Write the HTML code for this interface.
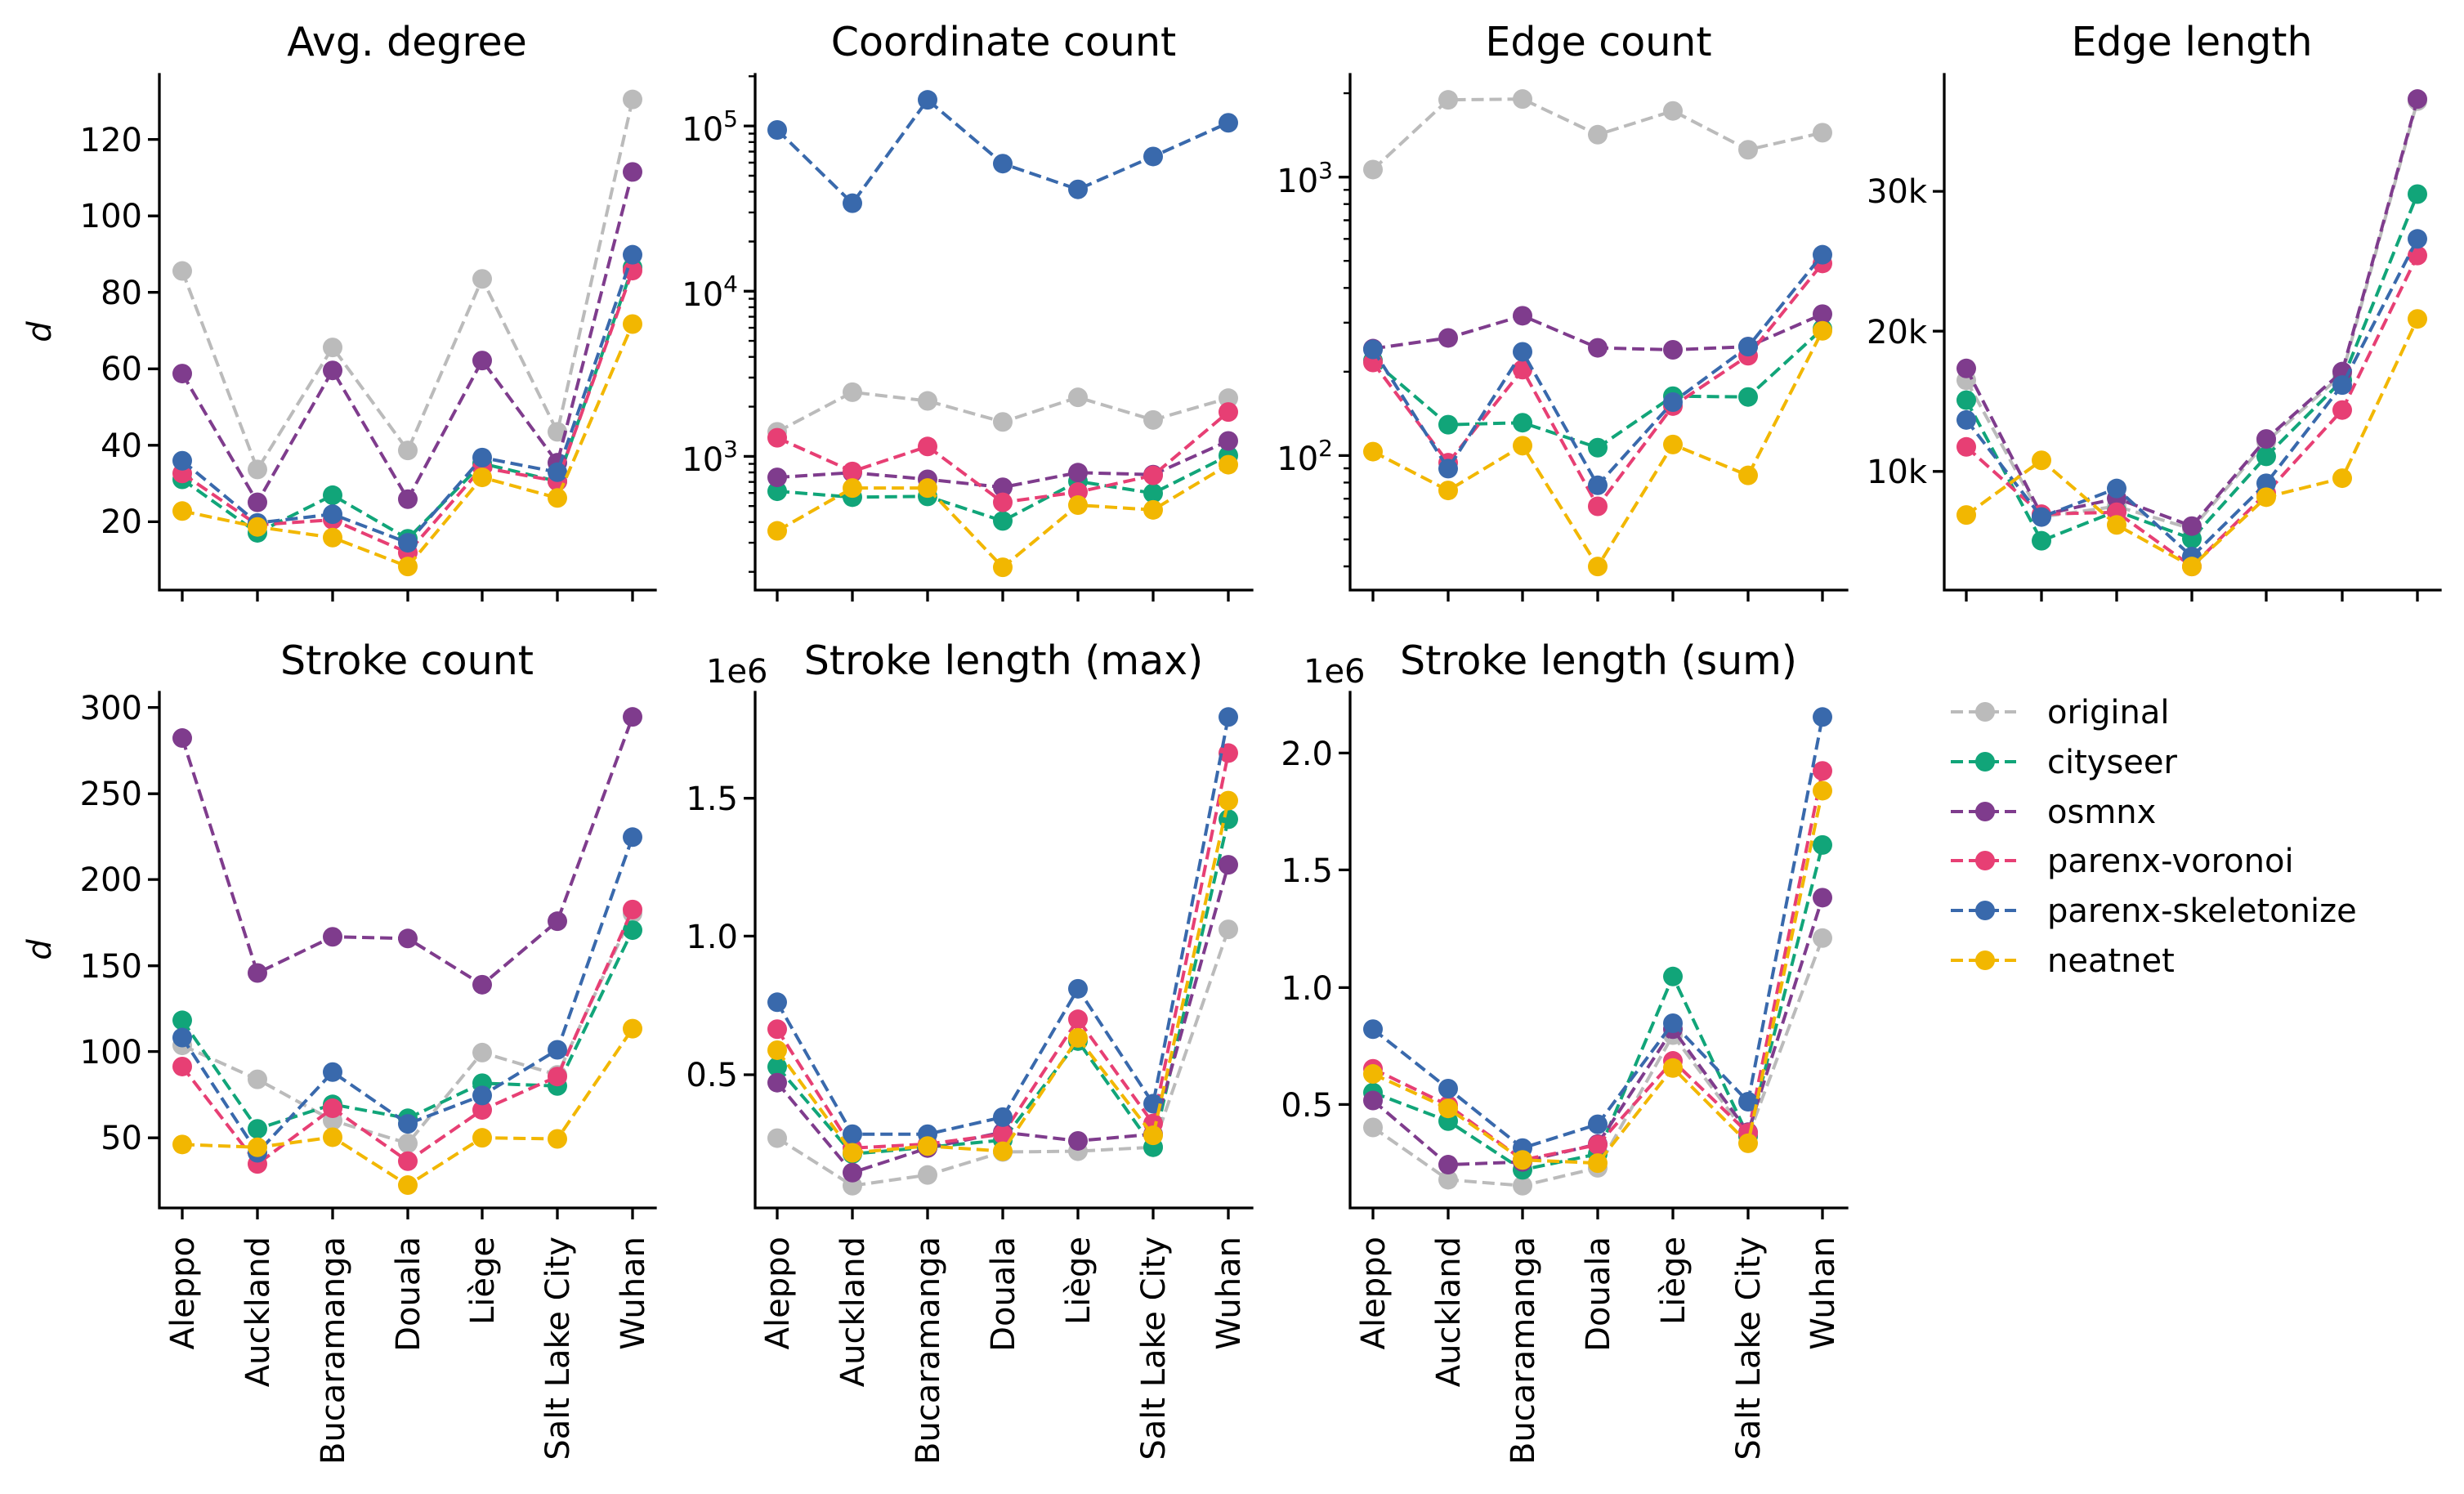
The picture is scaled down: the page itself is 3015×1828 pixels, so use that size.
<!DOCTYPE html>
<html><head><meta charset="utf-8"><style>
html,body{margin:0;padding:0;background:#fff}
svg{display:block}
text{font-family:"DejaVu Sans","Liberation Sans",sans-serif;fill:#000}
.t{font-size:40px}
.ti{font-size:49px}
.ax{stroke:#000;stroke-width:3.3;fill:none;stroke-linecap:square}
.tk{stroke:#000;stroke-width:3.3}
.mn{stroke:#000;stroke-width:2.4}
.l{fill:none;stroke-width:4;stroke-dasharray:15 7;vector-effect:non-scaling-stroke}
.m{fill:none;stroke-width:24;stroke-linecap:round;vector-effect:non-scaling-stroke}
.g{stroke:#bbbbbb}.c{stroke:#11a579}.o{stroke:#7f3c8d}.v{stroke:#e73f74}.s{stroke:#3969ac}.n{stroke:#f2b701}
</style></head><body>
<svg width="3015" height="1828" viewBox="0 0 3015 1828" xmlns="http://www.w3.org/2000/svg">

<!-- Titles -->
<text class="ti" x="498" y="68" text-anchor="middle">Avg. degree</text>
<text class="ti" x="1228" y="68" text-anchor="middle">Coordinate count</text>
<text class="ti" x="1956" y="68" text-anchor="middle">Edge count</text>
<text class="ti" x="2682" y="68" text-anchor="middle">Edge length</text>
<text class="ti" x="498" y="825" text-anchor="middle">Stroke count</text>
<text class="ti" x="1228" y="825" text-anchor="middle">Stroke length (max)</text>
<text class="ti" x="1956" y="825" text-anchor="middle">Stroke length (sum)</text>

<!-- y labels -->
<text class="t" font-style="italic" transform="translate(62,406) rotate(-90)" text-anchor="middle">d</text>
<text class="t" font-style="italic" transform="translate(62,1162) rotate(-90)" text-anchor="middle">d</text>

<!-- Axes spines -->
<path class="ax" d="M195 91V722H802"/>
<path class="ax" d="M924 91V722H1532"/>
<path class="ax" d="M1652 91V722H2260"/>
<path class="ax" d="M2379 91V722H2986"/>
<path class="ax" d="M195 847V1478H802"/>
<path class="ax" d="M924 847V1478H1532"/>
<path class="ax" d="M1652 847V1478H2260"/>

<!-- x ticks -->
<path class="tk" d="M223 722v14M315 722v14M407 722v14M499 722v14M590 722v14M682 722v14M774 722v14
M951 722v14M1043 722v14M1135 722v14M1227 722v14M1319 722v14M1411 722v14M1503 722v14
M1680 722v14M1772 722v14M1863 722v14M1955 722v14M2047 722v14M2139 722v14M2230 722v14
M2406 722v14M2498 722v14M2590 722v14M2682 722v14M2773 722v14M2866 722v14M2958 722v14
M223 1478v14M315 1478v14M407 1478v14M499 1478v14M590 1478v14M682 1478v14M774 1478v14
M951 1478v14M1043 1478v14M1135 1478v14M1227 1478v14M1319 1478v14M1411 1478v14M1503 1478v14
M1680 1478v14M1772 1478v14M1863 1478v14M1955 1478v14M2047 1478v14M2139 1478v14M2230 1478v14"/>

<!-- x tick labels -->
<g class="t" text-anchor="end">
<text class="t" transform="translate(223,1513) rotate(-90)" dy="0.35em">Aleppo</text>
<text class="t" transform="translate(315,1513) rotate(-90)" dy="0.35em">Auckland</text>
<text class="t" transform="translate(407,1513) rotate(-90)" dy="0.35em">Bucaramanga</text>
<text class="t" transform="translate(499,1513) rotate(-90)" dy="0.35em">Douala</text>
<text class="t" transform="translate(590,1513) rotate(-90)" dy="0.35em">Liège</text>
<text class="t" transform="translate(682,1513) rotate(-90)" dy="0.35em">Salt Lake City</text>
<text class="t" transform="translate(774,1513) rotate(-90)" dy="0.35em">Wuhan</text>
<text class="t" transform="translate(951,1513) rotate(-90)" dy="0.35em">Aleppo</text>
<text class="t" transform="translate(1043,1513) rotate(-90)" dy="0.35em">Auckland</text>
<text class="t" transform="translate(1135,1513) rotate(-90)" dy="0.35em">Bucaramanga</text>
<text class="t" transform="translate(1227,1513) rotate(-90)" dy="0.35em">Douala</text>
<text class="t" transform="translate(1319,1513) rotate(-90)" dy="0.35em">Liège</text>
<text class="t" transform="translate(1411,1513) rotate(-90)" dy="0.35em">Salt Lake City</text>
<text class="t" transform="translate(1503,1513) rotate(-90)" dy="0.35em">Wuhan</text>
<text class="t" transform="translate(1680,1513) rotate(-90)" dy="0.35em">Aleppo</text>
<text class="t" transform="translate(1772,1513) rotate(-90)" dy="0.35em">Auckland</text>
<text class="t" transform="translate(1863,1513) rotate(-90)" dy="0.35em">Bucaramanga</text>
<text class="t" transform="translate(1955,1513) rotate(-90)" dy="0.35em">Douala</text>
<text class="t" transform="translate(2047,1513) rotate(-90)" dy="0.35em">Liège</text>
<text class="t" transform="translate(2139,1513) rotate(-90)" dy="0.35em">Salt Lake City</text>
<text class="t" transform="translate(2230,1513) rotate(-90)" dy="0.35em">Wuhan</text>
</g>

<!-- P1 y ticks -->
<path class="tk" d="M195 638.4h-14M195 544.8h-14M195 451.3h-14M195 357.7h-14M195 264.2h-14M195 170.6h-14"/>
<g text-anchor="end">
<text class="t" x="174" y="652">20</text>
<text class="t" x="174" y="559">40</text>
<text class="t" x="174" y="465">60</text>
<text class="t" x="174" y="372">80</text>
<text class="t" x="174" y="278">100</text>
<text class="t" x="174" y="185">120</text>
</g>

<!-- P2 y ticks (log) -->
<path class="tk" d="M924 154.1h-14M924 356.3h-14M924 558.4h-14"/>
<path class="mn" d="M924 699.7h-8M924 664.1h-8M924 638.8h-8M924 619.2h-8M924 603.2h-8M924 589.7h-8M924 578h-8M924 567.6h-8
M924 497.6h-8M924 462h-8M924 436.7h-8M924 417.1h-8M924 401.1h-8M924 387.6h-8M924 375.9h-8M924 365.6h-8
M924 295.5h-8M924 259.9h-8M924 234.6h-8M924 215h-8M924 199h-8M924 185.5h-8M924 173.8h-8M924 163.5h-8M924 93.3h-8"/>
<g text-anchor="end">
<text class="t" x="903" y="172">10<tspan font-size="28" dy="-17">5</tspan></text>
<text class="t" x="903" y="374">10<tspan font-size="28" dy="-17">4</tspan></text>
<text class="t" x="903" y="576">10<tspan font-size="28" dy="-17">3</tspan></text>
</g>

<!-- P3 y ticks (log) -->
<path class="tk" d="M1652 216.7h-14M1652 557.4h-14"/>
<path class="mn" d="M1652 693h-8M1652 660h-8M1652 633h-8M1652 610.2h-8M1652 590.4h-8M1652 573h-8
M1652 454.8h-8M1652 394.8h-8M1652 352.3h-8M1652 319.2h-8M1652 292.3h-8M1652 269.5h-8M1652 249.7h-8M1652 232.3h-8M1652 114.1h-8"/>
<g text-anchor="end">
<text class="t" x="1631" y="235">10<tspan font-size="28" dy="-17">3</tspan></text>
<text class="t" x="1631" y="575">10<tspan font-size="28" dy="-17">2</tspan></text>
</g>

<!-- P4 y ticks -->
<path class="tk" d="M2379 576.8h-14M2379 405.2h-14M2379 234.1h-14"/>
<g text-anchor="end">
<text class="t" x="2358" y="591">10k</text>
<text class="t" x="2358" y="420">20k</text>
<text class="t" x="2358" y="248">30k</text>
</g>

<!-- P5 y ticks -->
<path class="tk" d="M195 865.6h-14M195 971.2h-14M195 1076.1h-14M195 1181.7h-14M195 1286.6h-14M195 1392.2h-14"/>
<g text-anchor="end">
<text class="t" x="174" y="880">300</text>
<text class="t" x="174" y="985">250</text>
<text class="t" x="174" y="1090">200</text>
<text class="t" x="174" y="1196">150</text>
<text class="t" x="174" y="1301">100</text>
<text class="t" x="174" y="1406">50</text>
</g>

<!-- P6 y ticks -->
<path class="tk" d="M924 1315h-14M924 1145.4h-14M924 976.7h-14"/>
<g text-anchor="end">
<text class="t" x="903" y="1329">0.5</text>
<text class="t" x="903" y="1160">1.0</text>
<text class="t" x="903" y="991">1.5</text>
</g>
<text class="t" x="864" y="835">1e6</text>

<!-- P7 y ticks -->
<path class="tk" d="M1652 1351.4h-14M1652 1208.4h-14M1652 1064.4h-14M1652 921.4h-14"/>
<g text-anchor="end">
<text class="t" x="1631" y="1366">0.5</text>
<text class="t" x="1631" y="1223">1.0</text>
<text class="t" x="1631" y="1079">1.5</text>
<text class="t" x="1631" y="936">2.0</text>
</g>
<text class="t" x="1595" y="835">1e6</text>

<!-- P1 data -->
<g transform="scale(1,0.48473)">
<path class="l g" d="M223 684L315 1185L407 877L499 1137L590 704L682 1090L774 251"/>
<path class="m g" d="M223 684h0M315 1185h0M407 877h0M499 1137h0M590 704h0M682 1090h0M774 251h0"/>
<path class="l c" d="M223 1210L315 1345L407 1250L499 1360L590 1170L682 1215L774 675"/>
<path class="m c" d="M223 1210h0M315 1345h0M407 1250h0M499 1360h0M590 1170h0M682 1215h0M774 675h0"/>
<path class="l o" d="M223 943L315 1268L407 935L499 1260L590 910L682 1168L774 434"/>
<path class="m o" d="M223 943h0M315 1268h0M407 935h0M499 1260h0M590 910h0M682 1168h0M774 434h0"/>
<path class="l v" d="M223 1195L315 1325L407 1312L499 1395L590 1180L682 1215L774 683"/>
<path class="m v" d="M223 1195h0M315 1325h0M407 1312h0M499 1395h0M590 1180h0M682 1215h0M774 683h0"/>
<path class="l s" d="M223 1163L315 1320L407 1298L499 1370L590 1155L682 1192L774 643"/>
<path class="m s" d="M223 1163h0M315 1320h0M407 1298h0M499 1370h0M590 1155h0M682 1192h0M774 643h0"/>
<path class="l n" d="M223 1290L315 1330L407 1357L499 1430L590 1205L682 1257L774 818"/>
<path class="m n" d="M223 1290h0M315 1330h0M407 1357h0M499 1430h0M590 1205h0M682 1257h0M774 818h0"/>
</g>

<!-- P2 data -->
<g transform="scale(1,0.48473)">
<path class="l g" d="M951 1090L1043 990L1135 1012L1227 1065L1319 1003L1411 1060L1503 1005"/>
<path class="m g" d="M951 1090h0M1043 990h0M1135 1012h0M1227 1065h0M1319 1003h0M1411 1060h0M1503 1005h0"/>
<path class="l c" d="M951 1240L1043 1255L1135 1253L1227 1315L1319 1215L1411 1245L1503 1150"/>
<path class="m c" d="M951 1240h0M1043 1255h0M1135 1253h0M1227 1315h0M1319 1215h0M1411 1245h0M1503 1150h0"/>
<path class="l o" d="M951 1205L1043 1193L1135 1210L1227 1230L1319 1193L1411 1198L1503 1113"/>
<path class="m o" d="M951 1205h0M1043 1193h0M1135 1210h0M1227 1230h0M1319 1193h0M1411 1198h0M1503 1113h0"/>
<path class="l v" d="M951 1105L1043 1190L1135 1127L1227 1268L1319 1242L1411 1200L1503 1040"/>
<path class="m v" d="M951 1105h0M1043 1190h0M1135 1127h0M1227 1268h0M1319 1242h0M1411 1200h0M1503 1040h0"/>
<path class="l s" d="M951 328L1043 513L1135 252L1227 413L1319 478L1411 395L1503 310"/>
<path class="m s" d="M951 328h0M1043 513h0M1135 252h0M1227 413h0M1319 478h0M1411 395h0M1503 310h0"/>
<path class="l n" d="M951 1340L1043 1232L1135 1232L1227 1432L1319 1275L1411 1287L1503 1173"/>
<path class="m n" d="M951 1340h0M1043 1232h0M1135 1232h0M1227 1432h0M1319 1275h0M1411 1287h0M1503 1173h0"/>
</g>

<!-- P3 data -->
<g transform="scale(1,0.48473)">
<path class="l g" d="M1680 428L1772 252L1863 250L1955 340L2047 280L2139 378L2230 335"/>
<path class="m g" d="M1680 428h0M1772 252h0M1863 250h0M1955 340h0M2047 280h0M2139 378h0M2230 335h0"/>
<path class="l c" d="M1680 910L1772 1072L1863 1067L1955 1130L2047 1000L2139 1002L2230 830"/>
<path class="m c" d="M1680 910h0M1772 1072h0M1863 1067h0M1955 1130h0M2047 1000h0M2139 1002h0M2230 830h0"/>
<path class="l o" d="M1680 880L1772 853L1863 797L1955 878L2047 883L2139 875L2230 793"/>
<path class="m o" d="M1680 880h0M1772 853h0M1863 797h0M1955 878h0M2047 883h0M2139 875h0M2230 793h0"/>
<path class="l v" d="M1680 915L1772 1168L1863 933L1955 1278L2047 1025L2139 898L2230 665"/>
<path class="m v" d="M1680 915h0M1772 1168h0M1863 933h0M1955 1278h0M2047 1025h0M2139 898h0M2230 665h0"/>
<path class="l s" d="M1680 882L1772 1183L1863 888L1955 1225L2047 1015L2139 875L2230 643"/>
<path class="m s" d="M1680 882h0M1772 1183h0M1863 888h0M1955 1225h0M2047 1015h0M2139 875h0M2230 643h0"/>
<path class="l n" d="M1680 1140L1772 1238L1863 1125L1955 1430L2047 1122L2139 1200L2230 835"/>
<path class="m n" d="M1680 1140h0M1772 1238h0M1863 1125h0M1955 1430h0M2047 1122h0M2139 1200h0M2230 835h0"/>
</g>

<!-- P4 data -->
<g transform="scale(1,0.48473)">
<path class="l g" d="M2406 960L2498 1305L2590 1278L2682 1335L2773 1115L2866 945L2958 255"/>
<path class="m g" d="M2406 960h0M2498 1305h0M2590 1278h0M2682 1335h0M2773 1115h0M2866 945h0M2958 255h0"/>
<path class="l c" d="M2406 1010L2498 1365L2590 1290L2682 1360L2773 1152L2866 960L2958 490"/>
<path class="m c" d="M2406 1010h0M2498 1365h0M2590 1290h0M2682 1360h0M2773 1152h0M2866 960h0M2958 490h0"/>
<path class="l o" d="M2406 930L2498 1300L2590 1258L2682 1328L2773 1108L2866 938L2958 250"/>
<path class="m o" d="M2406 930h0M2498 1300h0M2590 1258h0M2682 1328h0M2773 1108h0M2866 938h0M2958 250h0"/>
<path class="l v" d="M2406 1128L2498 1298L2590 1293L2682 1430L2773 1245L2866 1035L2958 645"/>
<path class="m v" d="M2406 1128h0M2498 1298h0M2590 1293h0M2682 1430h0M2773 1245h0M2866 1035h0M2958 645h0"/>
<path class="l s" d="M2406 1060L2498 1305L2590 1233L2682 1405L2773 1220L2866 972L2958 603"/>
<path class="m s" d="M2406 1060h0M2498 1305h0M2590 1233h0M2682 1405h0M2773 1220h0M2866 972h0M2958 603h0"/>
<path class="l n" d="M2406 1300L2498 1162L2590 1325L2682 1430L2773 1255L2866 1207L2958 805"/>
<path class="m n" d="M2406 1300h0M2498 1162h0M2590 1325h0M2682 1430h0M2773 1255h0M2866 1207h0M2958 805h0"/>
</g>

<!-- P5 data -->
<g transform="translate(0,760) scale(1,0.6812)">
<path class="l g" d="M223 762L315 823L407 897L499 938L590 775L682 815L774 525"/>
<path class="m g" d="M223 762h0M315 823h0M407 897h0M499 938h0M590 775h0M682 815h0M774 525h0"/>
<path class="l c" d="M223 717L315 912L407 868L499 893L590 830L682 835L774 555"/>
<path class="m c" d="M223 717h0M315 912h0M407 868h0M499 893h0M590 830h0M682 835h0M774 555h0"/>
<path class="l o" d="M223 210L315 632L407 567L499 570L590 653L682 539L774 172"/>
<path class="m o" d="M223 210h0M315 632h0M407 567h0M499 570h0M590 653h0M682 539h0M774 172h0"/>
<path class="l v" d="M223 800L315 975L407 875L499 970L590 878L682 818L774 518"/>
<path class="m v" d="M223 800h0M315 975h0M407 875h0M499 970h0M590 878h0M682 818h0M774 518h0"/>
<path class="l s" d="M223 748L315 955L407 810L499 903L590 852L682 770L774 388"/>
<path class="m s" d="M223 748h0M315 955h0M407 810h0M499 903h0M590 852h0M682 770h0M774 388h0"/>
<path class="l n" d="M223 940L315 945L407 927L499 1013L590 928L682 930L774 732"/>
<path class="m n" d="M223 940h0M315 945h0M407 927h0M499 1013h0M590 928h0M682 930h0M774 732h0"/>
</g>

<!-- P6 data -->
<g transform="translate(0,760) scale(1,0.48473)">
<path class="l g" d="M951 1305L1043 1425L1135 1398L1227 1340L1319 1338L1411 1328L1503 778"/>
<path class="m g" d="M951 1305h0M1043 1425h0M1135 1398h0M1227 1340h0M1319 1338h0M1411 1328h0M1503 778h0"/>
<path class="l c" d="M951 1125L1043 1345L1135 1328L1227 1310L1319 1060L1411 1328L1503 500"/>
<path class="m c" d="M951 1125h0M1043 1345h0M1135 1328h0M1227 1310h0M1319 1060h0M1411 1328h0M1503 500h0"/>
<path class="l o" d="M951 1165L1043 1392L1135 1330L1227 1290L1319 1312L1411 1295L1503 615"/>
<path class="m o" d="M951 1165h0M1043 1392h0M1135 1330h0M1227 1290h0M1319 1312h0M1411 1295h0M1503 615h0"/>
<path class="l v" d="M951 1030L1043 1330L1135 1320L1227 1295L1319 1005L1411 1268L1503 333"/>
<path class="m v" d="M951 1030h0M1043 1330h0M1135 1320h0M1227 1295h0M1319 1005h0M1411 1268h0M1503 333h0"/>
<path class="l s" d="M951 962L1043 1295L1135 1295L1227 1252L1319 928L1411 1218L1503 242"/>
<path class="m s" d="M951 962h0M1043 1295h0M1135 1295h0M1227 1252h0M1319 928h0M1411 1218h0M1503 242h0"/>
<path class="l n" d="M951 1083L1043 1342L1135 1325L1227 1338L1319 1052L1411 1298L1503 453"/>
<path class="m n" d="M951 1083h0M1043 1342h0M1135 1325h0M1227 1338h0M1319 1052h0M1411 1298h0M1503 453h0"/>
</g>

<!-- P7 data -->
<g transform="translate(0,760) scale(1,0.48473)">
<path class="l g" d="M1680 1278L1772 1410L1863 1425L1955 1380L2047 1045L2139 1300L2230 800"/>
<path class="m g" d="M1680 1278h0M1772 1410h0M1863 1425h0M1955 1380h0M2047 1045h0M2139 1300h0M2230 800h0"/>
<path class="l c" d="M1680 1190L1772 1262L1863 1385L1955 1345L2047 897L2139 1300L2230 565"/>
<path class="m c" d="M1680 1190h0M1772 1262h0M1863 1385h0M1955 1345h0M2047 897h0M2139 1300h0M2230 565h0"/>
<path class="l o" d="M1680 1210L1772 1372L1863 1365L1955 1320L2047 1030L2139 1290L2230 698"/>
<path class="m o" d="M1680 1210h0M1772 1372h0M1863 1365h0M1955 1320h0M2047 1030h0M2139 1290h0M2230 698h0"/>
<path class="l v" d="M1680 1130L1772 1222L1863 1360L1955 1322L2047 1110L2139 1292L2230 378"/>
<path class="m v" d="M1680 1130h0M1772 1222h0M1863 1360h0M1955 1322h0M2047 1110h0M2139 1292h0M2230 378h0"/>
<path class="l s" d="M1680 1030L1772 1180L1863 1330L1955 1270L2047 1015L2139 1213L2230 242"/>
<path class="m s" d="M1680 1030h0M1772 1180h0M1863 1330h0M1955 1270h0M2047 1015h0M2139 1213h0M2230 242h0"/>
<path class="l n" d="M1680 1143L1772 1230L1863 1360L1955 1368L2047 1128L2139 1318L2230 428"/>
<path class="m n" d="M1680 1143h0M1772 1230h0M1863 1360h0M1955 1368h0M2047 1128h0M2139 1318h0M2230 428h0"/>
</g>

<!-- Legend -->
<g>
<path class="l g" d="M2387 871H2467"/><path class="m g" d="M2429 871h0"/>
<text class="t" x="2505" y="885">original</text>
<path class="l c" d="M2387 932H2467"/><path class="m c" d="M2429 932h0"/>
<text class="t" x="2505" y="946">cityseer</text>
<path class="l o" d="M2387 993H2467"/><path class="m o" d="M2429 993h0"/>
<text class="t" x="2505" y="1007">osmnx</text>
<path class="l v" d="M2387 1053H2467"/><path class="m v" d="M2429 1053h0"/>
<text class="t" x="2505" y="1067">parenx-voronoi</text>
<path class="l s" d="M2387 1114H2467"/><path class="m s" d="M2429 1114h0"/>
<text class="t" x="2505" y="1128">parenx-skeletonize</text>
<path class="l n" d="M2387 1175H2467"/><path class="m n" d="M2429 1175h0"/>
<text class="t" x="2505" y="1189">neatnet</text>
</g>
</svg>
</body></html>
